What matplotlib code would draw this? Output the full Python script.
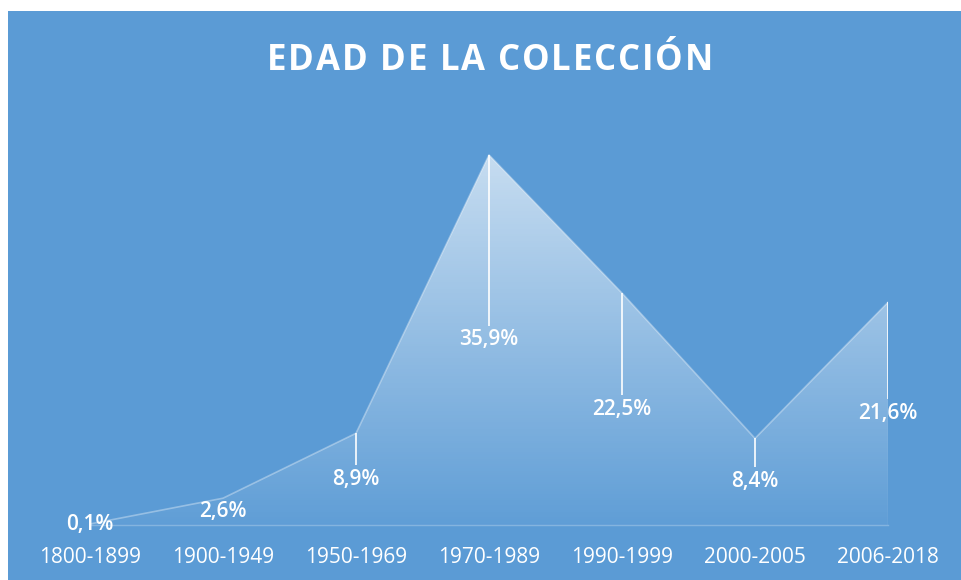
import numpy as np
import matplotlib.pyplot as plt
from matplotlib.patches import Rectangle
from matplotlib.font_manager import FontProperties, findfont
from matplotlib.ft2font import FT2Font

# =====================
# Data
# =====================
categories = ['1800-1899', '1900-1949', '1950-1969', '1970-1989',
              '1990-1999', '2000-2005', '2006-2018']
values = [0.1, 2.6, 8.9, 35.9, 22.5, 8.4, 21.6]
labels = ['0,1%', '2,6%', '8,9%', '35,9%', '22,5%', '8,4%', '21,6%']
title = 'EDAD DE LA COLECCIÓN'

bg_blue = '#5B9BD5'
plt.rcParams['font.family'] = ['Open Sans', 'DejaVu Sans']

W, H = 961, 580
fig = plt.figure(figsize=(W / 100, H / 100), dpi=100)
fig.patch.set_facecolor('white')
# blue chart background (small white margin top/left like the reference)
fig.patches.append(Rectangle((8 / W, 0), (W - 8) / W, 569 / H,
                             transform=fig.transFigure, facecolor=bg_blue,
                             edgecolor='none', zorder=-10))

ax = fig.add_axes([90 / W, 55 / H, 798 / W, 412.4 / H])
ax.set_facecolor('none')
ax.set_xlim(0, len(categories) - 1)
ax.set_ylim(0, 40)

x = np.arange(len(categories))
vmax = max(values)

# gradient fill (white, fading towards the baseline), clipped to the area
poly = ax.fill_between(x, values, 0, facecolor='none', edgecolor='none')
grad = np.linspace(0, 1, 256).reshape(-1, 1)
rgba = np.ones((256, 1, 4))
rgba[..., 3] = 0.03 + 0.63 * grad
img = ax.imshow(rgba, extent=[0, len(categories) - 1, 0, vmax], origin='lower',
                aspect='auto', zorder=1, interpolation='bilinear')
img.set_clip_path(poly.get_paths()[0], transform=ax.transData)

# faint outline along the top of the area
ax.plot(x, values, color='white', alpha=0.35, lw=1.2, zorder=2)
ax.plot([x[-1], x[-1]], [0, values[-1]], color='white', alpha=0.2, lw=1, zorder=2)

# drop lines + data labels in the middle of the area
for xi, v, lab in zip(x, values, labels):
    top = v
    bot = v / 2 + 1.4
    if bot < top:
        ax.vlines(xi, bot, top, color='white', lw=1.2, zorder=3)
    ax.text(xi, v / 2, lab, ha='center', va='center', color='white',
            fontsize=15, fontweight='semibold', zorder=4)

ax.set_xticks(x)
ax.set_xticklabels(categories, fontsize=15, color='white')
ax.tick_params(axis='x', length=0, pad=16)
ax.set_yticks([])
for side in ['top', 'left', 'right']:
    ax.spines[side].set_visible(False)
ax.spines['bottom'].set_color((1, 1, 1, 0.25))
ax.spines['bottom'].set_linewidth(1)

# title with a little extra letter spacing (placed char by char)
t_size = 25
t_prop = FontProperties(family='Open Sans', weight='bold', size=t_size)
ft = FT2Font(findfont(t_prop))
ft.set_size(t_size, 100)
advances = [ft.load_char(ord(ch)).linearHoriAdvance / 65536 for ch in title]
t_left, t_right = 267, 713
spacing = (t_right - t_left - sum(advances)) / (len(title) - 1)
cx = t_left
for ch, adv in zip(title, advances):
    fig.text(cx / W, 1 - 70 / H, ch, ha='left', va='baseline', color='white',
             fontproperties=t_prop)
    cx += adv + spacing

fig.savefig('out.png', dpi=100)
